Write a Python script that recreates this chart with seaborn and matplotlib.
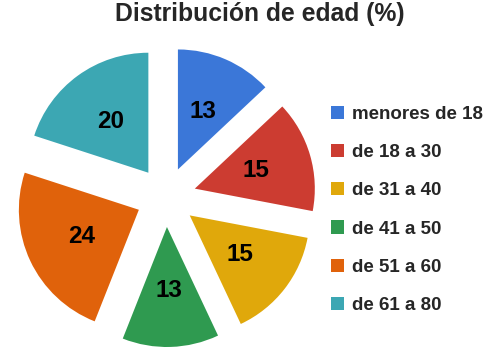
import matplotlib
matplotlib.use("Agg")
import matplotlib.pyplot as plt
from matplotlib.patches import Patch
import seaborn as sns

# data
groups = ["menores de 18", "de 18 a 30", "de 31 a 40", "de 41 a 50", "de 51 a 60", "de 61 a 80"]
shares = [13, 15, 15, 13, 24, 20]
colors = ["#3b77d8", "#cc3c31", "#e0a80b", "#2f9a50", "#e0620b", "#3ca7b3"]

sns.set_theme(style="white")
plt.rcParams["font.family"] = ["Liberation Sans", "DejaVu Sans"]

fig = plt.figure(figsize=(5, 3.55), dpi=100)
ax = fig.add_axes([0, 0, 332 / 500, 317 / 355])

wedges, texts, autotexts = ax.pie(
    shares,
    colors=colors,
    startangle=90,
    counterclock=False,
    explode=[0.25] * len(shares),
    radius=1.0,
    autopct=lambda p: f"{p:.0f}",
    pctdistance=0.53,
    wedgeprops=dict(linewidth=0),
    textprops=dict(fontsize=17.5, fontweight="bold", color="black"),
)
ax.set_xlim(-166 / 120, 166 / 120)
ax.set_ylim(-158 / 120, 159 / 120)
ax.set_aspect("auto")
ax.axis("off")

fig.suptitle("Distribución de edad (%)", x=0.52, y=0.995, fontsize=17.8, fontweight="bold")

handles = [Patch(facecolor=c, edgecolor="none") for c in colors]
fig.legend(handles, groups, loc="upper left", bbox_to_anchor=(331 / 500, 1 - 106 / 355),
           frameon=False, prop=dict(size=13.5, weight="bold"),
           handlelength=0.7, handleheight=0.7, handletextpad=0.4, labelspacing=1.12,
           borderaxespad=0, borderpad=0)

fig.savefig("out.png", dpi=100)
